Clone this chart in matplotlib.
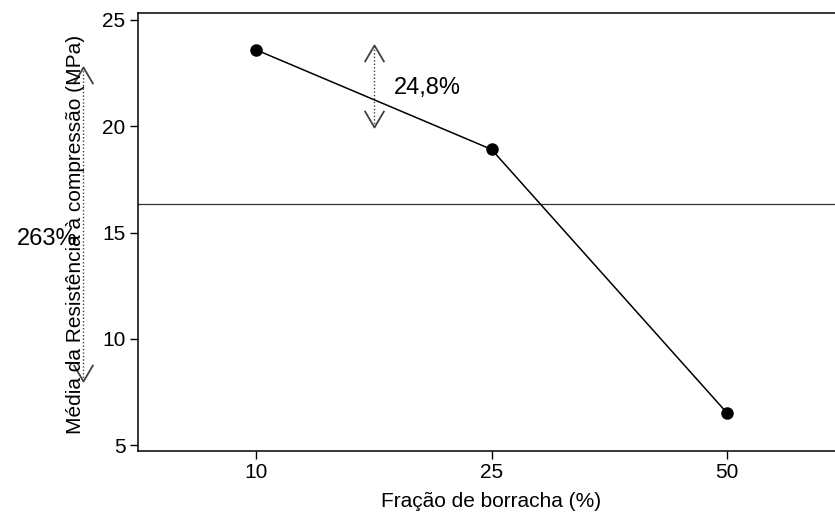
import matplotlib.pyplot as plt
import numpy as np
from matplotlib.path import Path

plt.rcParams['font.family'] = ['Liberation Sans', 'DejaVu Sans']

fracoes = ['10', '25', '50']
resistencia = [23.6, 18.91, 6.5]
rotulo_queda_1 = '24,8%'
rotulo_queda_2 = '263%'

x = np.arange(len(fracoes))
media_geral = np.mean(resistencia)

fig = plt.figure(figsize=(8.35, 5.17), dpi=100)
ax = fig.add_axes([0.1653, 0.1277, 0.8467, 0.8472])

ax.plot(x, resistencia, color='black', lw=1.1, marker='o', ms=8, zorder=3)
ax.axhline(media_geral, color='#333333', lw=0.9)

ax.set_xlim(-0.5, 2.5)
ax.set_ylim(4.72, 25.33)
ax.set_xticks(x)
ax.set_xticklabels(fracoes)
ax.set_yticks([5, 10, 15, 20, 25])
ax.tick_params(labelsize=15, length=6, width=1, direction='out', pad=3)
for s in ['top', 'left', 'bottom']:
    ax.spines[s].set_linewidth(1.1)
ax.spines['right'].set_visible(False)

ax.set_xlabel('Fração de borracha (%)', fontsize=15, va='top')
ax.xaxis.set_label_coords(0.5, -0.093)
fig.text(76 / 835, 1 - 234 / 517, 'Média da Resistência à compressão (MPa)',
         rotation=90, ha='center', va='center', fontsize=15)

# open chevron heads for the dotted double arrows
ponta_cima = Path([(-1, -1.7), (0, 0), (1, -1.7)],
                  [Path.MOVETO, Path.LINETO, Path.LINETO])
ponta_baixo = Path([(-1, 1.7), (0, 0), (1, 1.7)],
                   [Path.MOVETO, Path.LINETO, Path.LINETO])


def seta_dupla(xp, y0, y1):
    ax.plot([xp, xp], [y0, y1], color='#404040', lw=1, ls=(0, (1, 1.5)),
            clip_on=False)
    ax.plot([xp], [y1], marker=ponta_cima, ms=24, mew=1.3, mec='#404040',
            fillstyle='none', ls='none', clip_on=False)
    ax.plot([xp], [y0], marker=ponta_baixo, ms=24, mew=1.3, mec='#404040',
            fillstyle='none', ls='none', clip_on=False)


seta_dupla(0.5, 19.98, 23.83)
ax.text(0.585, 21.8, rotulo_queda_1, fontsize=17, ha='left', va='center')

seta_dupla(-0.733, 8.0, 22.79)
ax.text(-0.758, 14.7, rotulo_queda_2, fontsize=17, ha='right', va='center',
        clip_on=False)

fig.savefig('out.png', dpi=100)
